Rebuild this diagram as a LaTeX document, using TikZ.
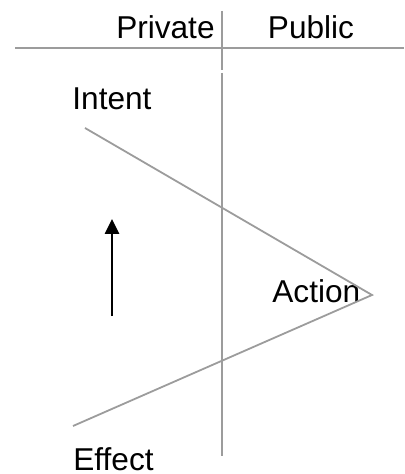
\documentclass[tikz,border=0pt]{standalone}
\usepackage{fontspec}
\setmainfont{Liberation Sans}
\usepackage{xcolor}
\usepackage{tikz}
\usetikzlibrary{arrows.meta}
\definecolor{ppInk}{HTML}{000000}
\definecolor{ppLine}{HTML}{9C9C9C}
\tikzset{
  pp diagram/.style={x=0.5pt, y=-0.5pt, text=ppInk,
    font=\fontsize{15.8}{19}\selectfont},
  pp label/.style={inner sep=0pt},
  pp rule/.style={draw=ppLine, line width=1pt},
  pp path/.style={draw=ppLine, line width=0.9pt},
  pp arrow/.style={-{Triangle[length=7.5pt,width=7pt]}, draw=ppInk,
    line width=1.3pt}
}
\begin{document}
\begin{tikzpicture}[pp diagram]
\useasboundingbox (0,0) rectangle (404,474);
% column headings
\node[pp label,anchor=base east] (priv) at (215,39) {Private};
\node[pp label,anchor=base] (pub) at (311,39) {Public};
\coordinate (ruleL) at (15,48);
\coordinate (ruleR) at (404,48);
\coordinate (divTop) at (222,11);
\coordinate (divGap) at (222,70);
\coordinate (divMid) at (222,73);
\coordinate (divBot) at (222,456);
\draw[pp rule] (ruleL) -- (ruleR);
\draw[pp rule] (divTop) -- (divGap);
\draw[pp rule] (divMid) -- (divBot);
% the cycle
\node[pp label,anchor=base west] (intent) at (72,110) {Intent};
\node[pp label,anchor=base west] (action) at (272,302) {Action};
\node[pp label,anchor=base west] (effect) at (73,470) {Effect};
\coordinate (intentEnd) at (85,128);
\coordinate (apex) at (372,295);
\coordinate (effectEnd) at (73,426);
\draw[pp path] (intentEnd) -- (apex) -- (effectEnd);
% direction
\coordinate (arrFrom) at (112,316);
\coordinate (arrTo) at (112,219);
\draw[pp arrow] (arrFrom) -- (arrTo);
\end{tikzpicture}
\end{document}
